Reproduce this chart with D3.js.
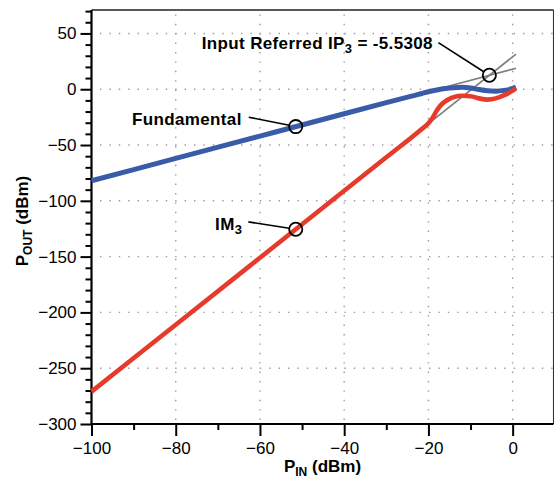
<!DOCTYPE html>
<html>
<head>
<meta charset="utf-8">
<script src="https://cdn.jsdelivr.net/npm/d3@7/dist/d3.min.js"></script>
<style>
  html, body { margin: 0; padding: 0; background: #fff; }
  svg { display: block; }
  text { font-family: "Liberation Sans", Arial, Helvetica, sans-serif; }
</style>
</head>
<body>
<svg id="chart" width="554" height="480"></svg>
<script>
// ---------------- data ----------------
const pinFund = [-100, -80, -60, -40, -30, -24, -20, -18, -16, -14, -12, -10, -8, -6, -4, -2, 0, 0.8];
const fundamental = [-82, -62, -42, -22, -12, -6.2, -2.3, -0.7, 0.6, 1.4, 1.7, 1.1, -0.3, -1.4, -1.7, -1.0, 0.7, 1.9];

const pinIM3 = [-100, -80, -60, -40, -30, -22, -20, -19, -18, -17, -16, -15, -14, -12, -10, -8, -6, -4, -2, 0, 0.8];
const im3 = [-271, -211, -151, -91, -61, -37, -30.5, -25.5, -19, -14, -10.8, -8.6, -7.1, -5.9, -6.3, -8.2, -9.3, -8.2, -5.3, -1.3, 0.9];

const extrapPin = [-22, 0.8];
const fundExtrap = [-4, 18.8];
const im3Extrap = [-36.9, 31.5];

const ip3Pin = -5.5308;
const ip3Out = 12.47;
const markerPin = -51.5;

const xTicks = [-100, -80, -60, -40, -20, 0];
const xMinor = [-90, -70, -50, -30, -10];
const yTicks = [-300, -250, -200, -150, -100, -50, 0, 50];
const yMinor = d3.range(-290, 71, 10).filter(v => v % 50 !== 0);

// ---------------- layout ----------------
const svg = d3.select("#chart");
const L = 91.5, R = 553.5, T = 10, B = 424;
const x = d3.scaleLinear().domain([-100, 9.7]).range([L, R]);
const y = d3.scaleLinear().domain([-300, 71]).range([B, T]);

const fmt = v => (v < 0 ? "\u2212" + Math.abs(v) : String(v));

// grid
const grid = svg.append("g").attr("stroke", "#9a9a9a").attr("stroke-width", 1.4)
  .attr("stroke-dasharray", "1.4 8").attr("fill", "none");
grid.selectAll("line.gx").data(xTicks.filter(v => v > -100)).join("line")
  .attr("x1", d => x(d)).attr("x2", d => x(d)).attr("y1", B - 4).attr("y2", T + 3);
grid.selectAll("line.gy").data(yTicks.filter(v => v > -300)).join("line")
  .attr("y1", d => y(d)).attr("y2", d => y(d)).attr("x1", L + 8.5).attr("x2", R);

// frame top/right
svg.append("line").attr("x1", L).attr("x2", R).attr("y1", T).attr("y2", T)
  .attr("stroke", "#222").attr("stroke-width", 1.3);
svg.append("line").attr("x1", R).attr("x2", R).attr("y1", T).attr("y2", B)
  .attr("stroke", "#333").attr("stroke-width", 1.1);

// axes
const xAxis = svg.append("g").attr("transform", `translate(0,${B})`)
  .call(d3.axisBottom(x).tickValues(xTicks).tickFormat(fmt).tickSize(12).tickPadding(6));
svg.append("g").attr("transform", `translate(0,${B})`)
  .call(d3.axisBottom(x).tickValues(xMinor).tickFormat("").tickSize(6))
  .call(g => g.select(".domain").remove());
const yAxis = svg.append("g").attr("transform", `translate(${L},0)`)
  .call(d3.axisLeft(y).tickValues(yTicks).tickFormat(fmt).tickSize(11).tickPadding(4));
svg.append("g").attr("transform", `translate(${L},0)`)
  .call(d3.axisLeft(y).tickValues(yMinor).tickFormat("").tickSize(6))
  .call(g => g.select(".domain").remove());

svg.selectAll(".tick line").attr("stroke", "#000").attr("stroke-width", 2);
svg.selectAll(".domain").attr("stroke", "#000").attr("stroke-width", 2.2);
xAxis.select(".domain").attr("d", `M${L},0H${R}`);
yAxis.select(".domain").attr("d", `M0,${B}V${T}`);
svg.selectAll(".tick text").attr("font-size", 17).attr("fill", "#000")
  .style("font-family", "'Liberation Sans', Arial, sans-serif");

// extrapolation lines
const line = d3.line().x(d => x(d[0])).y(d => y(d[1]));
svg.append("path").datum(d3.zip(extrapPin, fundExtrap)).attr("d", line)
  .attr("fill", "none").attr("stroke", "#7d7d7d").attr("stroke-width", 1.6);
svg.append("path").datum(d3.zip(extrapPin, im3Extrap)).attr("d", line)
  .attr("fill", "none").attr("stroke", "#7d7d7d").attr("stroke-width", 1.6);

// curves
const curve = d3.line().x(d => x(d[0])).y(d => y(d[1])).curve(d3.curveMonotoneX);
svg.append("path").datum(d3.zip(pinFund, fundamental)).attr("d", curve)
  .attr("fill", "none").attr("stroke", "#3a5ba8").attr("stroke-width", 5)
  .attr("stroke-linejoin", "round");
svg.append("path").datum(d3.zip(pinIM3, im3)).attr("d", curve)
  .attr("fill", "none").attr("stroke", "#e63b2b").attr("stroke-width", 4.6)
  .attr("stroke-linejoin", "round");

// markers & annotations
const fundAt = fundamental[0] + (markerPin - pinFund[0]); // on the linear part
const im3At = im3[0] + 3 * (markerPin - pinIM3[0]);
const marks = [
  { px: markerPin, py: fundAt, dx: -47, dy: -9.4, tx: -54, ty: -1.5, main: "Fundamental", sub: "", tail: "" },
  { px: markerPin, py: im3At, dx: -47.4, dy: -7.4, tx: -53.5, ty: 1, main: "IM", sub: "3", tail: "" },
  { px: ip3Pin, py: ip3Out, dx: -51, dy: -32.7, tx: -56.5, ty: -26, main: "Input Referred IP", sub: "3", tail: " = -5.5308" }
];
const r = 6.6;
marks.forEach(m => {
  const cx = x(m.px), cy = y(m.py);
  const len = Math.hypot(m.dx, m.dy);
  svg.append("line")
    .attr("x1", cx + m.dx).attr("y1", cy + m.dy)
    .attr("x2", cx + m.dx * (r / len)).attr("y2", cy + m.dy * (r / len))
    .attr("stroke", "#000").attr("stroke-width", 1.6);
  svg.append("circle").attr("cx", cx).attr("cy", cy).attr("r", r)
    .attr("fill", "none").attr("stroke", "#000").attr("stroke-width", 1.8);
  const t = svg.append("text").attr("x", cx + m.tx).attr("y", cy + m.ty)
    .attr("text-anchor", "end").attr("font-size", 17).attr("font-weight", "bold")
    .attr("letter-spacing", 0.35);
  t.append("tspan").text(m.main);
  if (m.sub) t.append("tspan").attr("font-size", 13).attr("dy", 4).text(m.sub);
  if (m.tail) t.append("tspan").attr("dy", -4).text(m.tail);
});

// axis titles
const xt = svg.append("text").attr("x", (L + R) / 2 + 0).attr("y", 472)
  .attr("text-anchor", "middle").attr("font-size", 17).attr("font-weight", "bold");
xt.append("tspan").text("P");
xt.append("tspan").attr("font-size", 12).attr("dy", 3.5).text("IN");
xt.append("tspan").attr("dy", -3.5).text(" (dBm)");

const yt = svg.append("text").attr("transform", `translate(28,${(T + B) / 2 + 4}) rotate(-90)`)
  .attr("text-anchor", "middle").attr("font-size", 17).attr("font-weight", "bold");
yt.append("tspan").text("P");
yt.append("tspan").attr("font-size", 12).attr("dy", 4).text("OUT");
yt.append("tspan").attr("dy", -4).text(" (dBm)");
</script>
</body>
</html>
